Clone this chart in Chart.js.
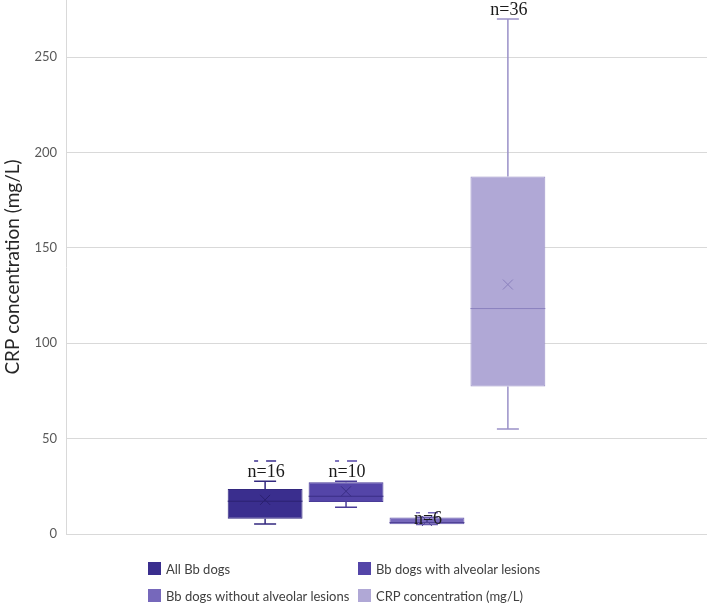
<!DOCTYPE html>
<html>
<head>
<meta charset="utf-8">
<script src="https://cdn.jsdelivr.net/npm/chart.js@4"></script>
<style>
  html, body { margin: 0; padding: 0; background: #fff; }
  #wrap { position: relative; width: 709px; height: 604px; }
  #legend { position: absolute; left: 148px; top: 560px; width: 420px;
    display: grid; grid-template-columns: 210px 210px; row-gap: 10px;
    font-family: Lato, "Liberation Sans", sans-serif; font-size: 13px; color: #404040; }
  #legend .item { display: flex; align-items: center; height: 17px; white-space: nowrap; }
  #legend .sw { width: 13px; height: 13px; margin-right: 5px; flex: none; }
</style>
</head>
<body>
<div id="wrap">
  <canvas id="c" width="709" height="604"></canvas>
  <div id="legend"></div>
</div>
<script>
// ---- data ----
const seriesNames = ["All Bb dogs", "Bb dogs with alveolar lesions", "Bb dogs without alveolar lesions", "CRP concentration (mg/L)"];
const mins    = [5.3, 14.0, 5.0, 55.1];
const q1s     = [8.0, 16.8, 5.1, 77.4];
const medians = [17.2, 19.8, 6.0, 118.2];
const q3s     = [23.6, 27.2, 8.6, 187.5];
const maxs    = [27.7, 27.7, 8.8, 270];
const means   = [17.9, 22.4, 6.8, 130.8];
const outliers = [[38.3], [38.3], [11.2], []];
const nLabels = ["n=16", "n=10", "n=6", "n=36"];
const nLabelAt = [27.7, 27.7, 3.0, 270];
const yTicks = [0, 50, 100, 150, 200, 250];

const fills   = ["#3a2e8e", "#5445a8", "#7668bb", "#b0a8d6"];
const edges   = ["#33287f", "#4a3c98", "#6a5cae", "#9a91c8"];
const darks   = ["#2a2070", "#3a2e85", "#4f4294", "#8a80bd"];

const datasets = seriesNames.map((name, i) => ({
  label: name,
  data: [[q1s[i], q3s[i]]],
  backgroundColor: fills[i],
  borderColor: edges[i],
  borderWidth: 1,
  borderSkipped: false,
  barPercentage: 0.925,
  categoryPercentage: 0.505
}));

const boxPlugin = {
  id: 'boxExtras',
  afterDatasetsDraw(chart) {
    const ctx = chart.ctx;
    const y = chart.scales.y;
    chart.data.datasets.forEach((ds, i) => {
      const el = chart.getDatasetMeta(i).data[0];
      const cx = el.x, w = el.width;
      const left = cx - w / 2, right = cx + w / 2;
      const pMin = y.getPixelForValue(mins[i]);
      const pMax = y.getPixelForValue(maxs[i]);
      const pQ1 = y.getPixelForValue(q1s[i]);
      const pQ3 = y.getPixelForValue(q3s[i]);
      const pMed = y.getPixelForValue(medians[i]);
      const pMean = y.getPixelForValue(means[i]);
      ctx.save();
      // whiskers
      ctx.strokeStyle = edges[i];
      ctx.lineWidth = 1.5;
      ctx.beginPath();
      ctx.moveTo(cx, pQ3); ctx.lineTo(cx, pMax);
      ctx.moveTo(cx, pQ1); ctx.lineTo(cx, pMin);
      ctx.moveTo(cx - 11, pMin); ctx.lineTo(cx + 11, pMin);
      ctx.moveTo(cx - 11, pMax); ctx.lineTo(cx + 11, pMax);
      ctx.stroke();
      // median
      ctx.strokeStyle = darks[i];
      ctx.lineWidth = 1;
      ctx.beginPath();
      ctx.moveTo(left, pMed); ctx.lineTo(right, pMed);
      ctx.stroke();
      // mean X
      const s = 5;
      ctx.beginPath();
      ctx.moveTo(cx - s, pMean - s); ctx.lineTo(cx + s, pMean + s);
      ctx.moveTo(cx - s, pMean + s); ctx.lineTo(cx + s, pMean - s);
      ctx.stroke();
      // outliers (dashes)
      ctx.strokeStyle = fills[i];
      ctx.lineWidth = 1.5;
      outliers[i].forEach(v => {
        const p = y.getPixelForValue(v);
        ctx.beginPath();
        ctx.moveTo(cx - 11, p); ctx.lineTo(cx - 7, p);
        ctx.moveTo(cx + 1, p); ctx.lineTo(cx + 11, p);
        ctx.stroke();
      });
      // n label
      ctx.fillStyle = "#1a1a1a";
      ctx.font = "18px 'Liberation Serif', serif";
      ctx.textAlign = "center";
      ctx.textBaseline = "alphabetic";
      ctx.fillText(nLabels[i], cx + 1, y.getPixelForValue(nLabelAt[i]) - 4);
      ctx.restore();
    });
  }
};

const chart = new Chart(document.getElementById('c'), {
  type: 'bar',
  data: { labels: [''], datasets },
  options: {
    responsive: false,
    animation: false,
    devicePixelRatio: 1,
    layout: { padding: { top: 0, right: 2, bottom: 70, left: 0 } },
    plugins: { legend: { display: false }, tooltip: { enabled: false } },
    scales: {
      x: { display: false },
      y: {
        min: 0, max: 280,
        afterBuildTicks: s => { s.ticks = yTicks.map(v => ({ value: v })); },
        afterFit: s => { s.width = 66; s.paddingTop = 0; s.paddingBottom = 0; },
        ticks: { color: '#595959', font: { family: 'Lato', size: 13 }, padding: 9 },
        grid: { color: '#d9d9d9', lineWidth: 1, drawTicks: false },
        border: { color: '#d9d9d9', width: 1 },
        title: { display: true, text: 'CRP concentration (mg/L)', color: '#262626',
                 font: { family: 'Lato', size: 19 }, padding: { top: 1, bottom: 0 } }
      }
    }
  },
  plugins: [boxPlugin]
});

// HTML legend
const lg = document.getElementById('legend');
[0, 1, 2, 3].forEach(i => {
  const d = document.createElement('div');
  d.className = 'item';
  d.innerHTML = '<span class="sw" style="background:' + fills[i] + '"></span><span>' + seriesNames[i] + '</span>';
  lg.appendChild(d);
});
</script>
</body>
</html>
